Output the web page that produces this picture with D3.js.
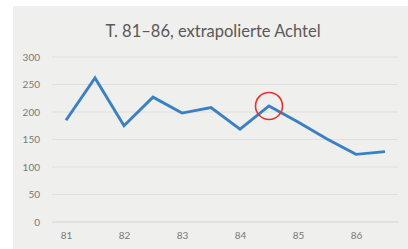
<!DOCTYPE html>
<html>
<head>
<meta charset="utf-8">
<script src="https://cdn.jsdelivr.net/npm/d3@7"></script>
<style>
  body { margin: 0; background: #fff; }
  svg { display: block; }
</style>
</head>
<body>
<script>
// Takte (in halben Schritten) und extrapolierte Achtel
const takte = [81, 81.5, 82, 82.5, 83, 83.5, 84, 84.5, 85, 85.5, 86, 86.5];
const achtel = [185, 262, 175, 227, 198, 208, 169, 211, 182, 151, 123, 128];
const yTicks = [0, 50, 100, 150, 200, 250, 300];
const xTicks = [81, 82, 83, 84, 85, 86];
const markedTakt = 84.5;

const width = 408, height = 249;

const svg = d3.select("body").append("svg")
  .attr("width", width)
  .attr("height", height);

svg.append("rect")
  .attr("x", 13).attr("y", 6)
  .attr("width", width - 13).attr("height", height - 6)
  .attr("fill", "#efefee");

const x = d3.scaleLinear().domain([81, 86]).range([66, 356]);
const y = d3.scaleLinear().domain([0, 300]).range([222, 57]);

// gridlines
svg.append("g")
  .selectAll("line")
  .data(yTicks).enter()
  .append("line")
  .attr("x1", 52).attr("x2", 398)
  .attr("y1", d => y(d)).attr("y2", d => y(d))
  .attr("stroke", d => d === 0 ? "#d6d3ce" : "#e2ded8")
  .attr("stroke-width", 1);

const yAxis = d3.axisLeft(y).tickValues(yTicks).tickSize(0).tickPadding(0);
svg.append("g")
  .attr("transform", "translate(40,0)")
  .call(yAxis)
  .call(g => g.select(".domain").remove())
  .selectAll("text")
  .attr("fill", "#7a7876")
  .style("font-family", "Lato, 'Open Sans', sans-serif")
  .style("font-size", "10px");

const xAxis = d3.axisBottom(x).tickValues(xTicks).tickFormat(d3.format("d"))
  .tickSize(0).tickPadding(0);
svg.append("g")
  .attr("transform", "translate(0,232)")
  .call(xAxis)
  .call(g => g.select(".domain").remove())
  .selectAll("text")
  .attr("fill", "#7a7876")
  .style("font-family", "Lato, 'Open Sans', sans-serif")
  .style("font-size", "10px");

const line = d3.line()
  .x((d, i) => x(takte[i]))
  .y(d => y(d));

svg.append("path")
  .datum(achtel)
  .attr("d", line)
  .attr("fill", "none")
  .attr("stroke", "#3b80c2")
  .attr("stroke-width", 2.9)
  .attr("stroke-linejoin", "miter");

// roter Kreis um den markierten Punkt
const mi = takte.indexOf(markedTakt);
svg.append("circle")
  .attr("cx", x(markedTakt))
  .attr("cy", y(achtel[mi]))
  .attr("r", 13.5)
  .attr("fill", "none")
  .attr("stroke", "#e2342c")
  .attr("stroke-width", 1.6);

svg.append("text")
  .attr("x", 213).attr("y", 37)
  .attr("text-anchor", "middle")
  .attr("fill", "#5b5957")
  .style("font-family", "Lato, 'Open Sans', sans-serif")
  .style("font-size", "16.5px")
  .text("T. 81–86, extrapolierte Achtel");
</script>
</body>
</html>
